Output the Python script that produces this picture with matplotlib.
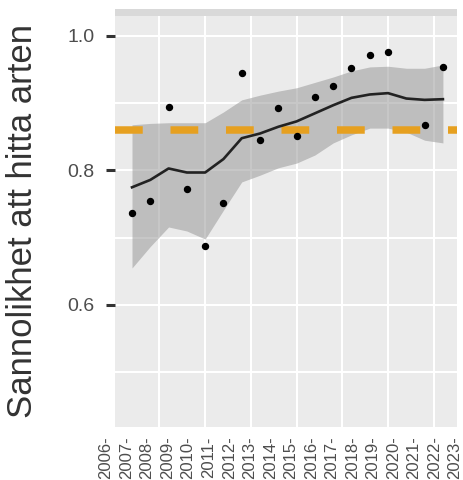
import matplotlib
matplotlib.use("Agg")
import matplotlib.pyplot as plt
from matplotlib.ticker import FixedLocator

plt.rcParams['font.family'] = ['Liberation Sans', 'DejaVu Sans']

# data
point_years = [2006, 2007, 2008, 2009, 2010, 2011, 2012, 2013, 2014, 2015,
               2016, 2017, 2018, 2019, 2020, 2022, 2023]
point_vals = [0.737, 0.755, 0.894, 0.772, 0.688, 0.752, 0.945, 0.845, 0.893, 0.851,
              0.909, 0.926, 0.952, 0.972, 0.976, 0.868, 0.954]

fit_years = list(range(2006, 2024))
fit_mean = [0.775, 0.786, 0.803, 0.797, 0.797, 0.817, 0.848, 0.855, 0.865, 0.873,
            0.885, 0.897, 0.908, 0.913, 0.915, 0.907, 0.905, 0.906]
fit_low = [0.655, 0.687, 0.716, 0.710, 0.698, 0.741, 0.783, 0.793, 0.804, 0.811,
           0.823, 0.841, 0.853, 0.863, 0.863, 0.857, 0.845, 0.841]
fit_high = [0.868, 0.870, 0.871, 0.871, 0.871, 0.887, 0.905, 0.912, 0.918, 0.923,
            0.931, 0.939, 0.948, 0.954, 0.955, 0.952, 0.952, 0.957]

ref_level = 0.86

label_years = list(range(2006, 2024))
x_grid = [2007.5, 2010, 2012.5, 2015, 2017.5, 2020, 2022.5]
y_ticks = [0.6, 0.8, 1.0]
y_minor = [0.5, 0.7, 0.9]

W, H = 464, 480
fig = plt.figure(figsize=(W / 100, H / 100), dpi=100)

def px_box(left, top, right, bottom):
    return [left / W, 1 - bottom / H, (right - left) / W, (bottom - top) / H]

ax = fig.add_axes(px_box(115, 16, 457, 427))
ax.set_facecolor('#EBEBEB')
for s in ax.spines.values():
    s.set_visible(False)
ax.set_axisbelow(True)

ax.fill_between(fit_years, fit_low, fit_high, color='#999999', alpha=0.55,
                linewidth=0, zorder=2)
ax.axhline(ref_level, color='#E6A020', linewidth=5.4, dashes=(3.7, 3.7),
           solid_capstyle='butt', dash_capstyle='butt', zorder=3)
ax.plot(fit_years, fit_mean, color='#222222', linewidth=1.9, zorder=4)
ax.plot(point_years, point_vals, 'o', color='black', markersize=4.3, zorder=5)

ax.set_xlim(2005.07, 2023.77)
ax.set_ylim(0.4186, 1.0297)

ax.xaxis.set_major_locator(FixedLocator(x_grid))
ax.tick_params(axis='x', length=0, labelbottom=False)
ax.yaxis.set_major_locator(FixedLocator(y_ticks))
ax.yaxis.set_minor_locator(FixedLocator(y_minor))
ax.set_yticklabels(['0.6', '0.8', '1.0'])
ax.tick_params(axis='y', which='major', length=6.5, width=2.2, color='#333333',
               labelsize=14, labelcolor='#4D4D4D', pad=8)
ax.tick_params(axis='y', which='minor', length=0)
ax.grid(True, which='both', color='white', linewidth=1.5)

# empty strip on top of the panel
strip = fig.add_axes(px_box(115, 9, 457, 16))
strip.set_facecolor('#D9D9D9')
strip.set_xticks([])
strip.set_yticks([])
for s in strip.spines.values():
    s.set_visible(False)

# year labels below the panel
lab = fig.add_axes(px_box(106, 427, 455, 428))
lab.set_xlim(2006, 2023)
lab.set_xticks(label_years)
lab.set_xticklabels([f'{y}-' for y in label_years], rotation=90, fontsize=12,
                    color='#4D4D4D')
lab.tick_params(axis='x', length=0, pad=6)
lab.set_yticks([])
lab.patch.set_visible(False)
for s in lab.spines.values():
    s.set_visible(False)

fig.text(23 / W, 1 - 221 / H, 'Sannolikhet att hitta arten', rotation=90,
         ha='center', va='center', fontsize=25, color='#333333')

fig.savefig('out.png', dpi=100, facecolor='white')
